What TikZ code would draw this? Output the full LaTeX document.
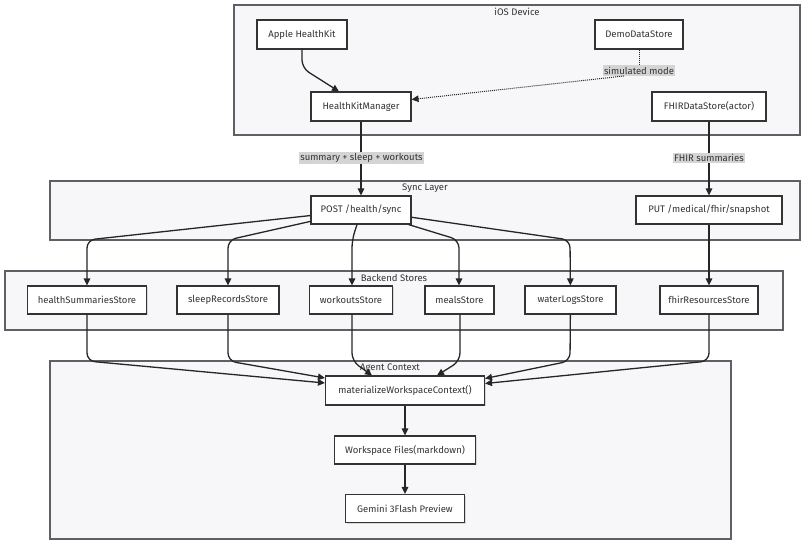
\documentclass[tikz,border=0pt]{standalone}
\usepackage{fontspec}
\setmainfont{Fira Sans}
\usetikzlibrary{arrows.meta,shadows}
\definecolor{txt}{HTML}{333333}
\definecolor{clfill}{HTML}{F7F7FA}
\definecolor{cldraw}{HTML}{5F5F66}
\definecolor{lblbg}{HTML}{D4D4D4}
\tikzset{
  cluster/.style={draw=cldraw, fill=clfill, line width=1.2pt},
  ctitle/.style={text=txt, inner sep=0pt, font=\fontsize{9.5}{11}\selectfont},
  box/.style={draw=txt, fill=white, line width=1.1pt, text=txt, minimum height=29pt, inner sep=2pt,
    drop shadow={shadow xshift=1.2pt, shadow yshift=-1.2pt, fill=black, opacity=0.12}},
  lbl/.style={fill=lblbg, text=txt, inner xsep=1pt, inner ysep=1.5pt},
  arr/.style={draw=black!85, line width=1.3pt, -{Triangle[length=7pt,width=6.5pt]}, rounded corners=8pt},
  dotarr/.style={draw=black!85, line width=1pt, dash pattern=on 1pt off 1pt},
}
\begin{document}
\begin{tikzpicture}[x=1pt,y=-1pt, font=\fontsize{9.5}{11}\selectfont]
\useasboundingbox (0,0) rectangle (806,544);
\fill[white] (0,0) rectangle (806,544);

% clusters
\draw[cluster] (234,5) rectangle (800,135);
\node[ctitle] (tios) at (517,12) {iOS Device};
\draw[cluster] (50,181) rectangle (800,240);
\node[ctitle] (tsync) at (425,188) {Sync Layer};
\draw[cluster] (5,271) rectangle (783,330);
\node[ctitle] (tback) at (394,278) {Backend Stores};
\draw[cluster] (50,361) rectangle (731,539);
\node[ctitle] (tagent) at (390,368) {Agent Context};

% iOS nodes
\node[box, minimum width=90pt] (ahk) at (302,34.5) {Apple HealthKit};
\node[box, minimum width=88pt] (demo) at (639,34.5) {DemoDataStore};
\node[box, minimum width=100pt] (hkm) at (361,106.5) {HealthKitManager};
\node[box, minimum width=114pt] (fds) at (709,106.5) {FHIRDataStore(actor)};

% sync nodes
\node[box, minimum width=100pt, minimum height=28pt] (post) at (361,210) {POST /health/sync};
\node[box, minimum width=146pt, minimum height=28pt] (put) at (709,210) {PUT /medical/fhir/snapshot};

% backend nodes
\node[box, minimum width=119pt, minimum height=28pt] (hss) at (87,300) {healthSummariesStore};
\node[box, minimum width=102pt, minimum height=28pt] (srs) at (228,300) {sleepRecordsStore};
\node[box, minimum width=83pt, minimum height=28pt] (wos) at (351,300) {workoutsStore};
\node[box, minimum width=69pt, minimum height=28pt] (meals) at (459.5,300) {mealsStore};
\node[box, minimum width=91pt, minimum height=28pt] (water) at (570.5,300) {waterLogsStore};
\node[box, minimum width=98pt, minimum height=28pt] (fhirs) at (709,300) {fhirResourcesStore};

% agent nodes
\node[box, minimum width=159pt] (mat) at (405,390.5) {materializeWorkspaceContext()};
\node[box, minimum width=141pt, minimum height=28pt] (wsf) at (405,450) {Workspace Files(markdown)};
\node[box, minimum width=119pt, minimum height=28pt] (gem) at (405,508.5) {Gemini 3Flash Preview};

% bend coordinates
\coordinate (a1) at (302,68);
\coordinate (s1) at (87,240);
\coordinate (s2) at (228,240);
\coordinate (s3) at (352,240);
\coordinate (s4) at (459,240);
\coordinate (s5) at (570,240);
\coordinate (m1) at (87,361);
\coordinate (m2) at (228,361);
\coordinate (m3) at (352,361);
\coordinate (m4) at (460,361);
\coordinate (m5) at (570,361);
\coordinate (m6) at (709,361);

% iOS edges
\draw[arr] (ahk) -- (a1) -- ([xshift=-22pt]hkm.north);
\node[lbl] (sim) at (639,70.5) {simulated mode};
\draw[dotarr] (demo) -- (sim);
\draw[dotarr, -{Triangle[length=7pt,width=6.5pt]}] (sim.200) -- ([yshift=7pt]hkm.east);

% to sync layer
\draw[arr] (hkm) -- (post);
\node[lbl] (l1) at (361.5,158) {summary + sleep + workouts};
\draw[arr] (fds) -- (put);
\node[lbl] (l2) at (709,158) {FHIR summaries};

% sync to backend
\draw[arr] (post) -- (s1) -- (hss);
\draw[arr] (post) -- (s2) -- (srs);
\draw[arr] ([xshift=-4pt]post.south) -- (s3) -- (wos.north -| s3);
\draw[arr] (post) -- (s4) -- (meals.north -| s4);
\draw[arr] (post) -- (s5) -- (water);
\draw[arr] (put) -- (fhirs);

% backend to agent
\draw[arr] (hss) -- (m1) -- ([yshift=7.5pt]mat.west);
\draw[arr] (srs) -- (m2) -- ([yshift=12.5pt]mat.west);
\draw[arr] (wos.south -| m3) -- (m3) -- ([xshift=-33pt]mat.north);
\draw[arr] (meals.south -| m4) -- (m4) -- ([xshift=32pt]mat.north);
\draw[arr] (water) -- (m5) -- ([yshift=12pt]mat.east);
\draw[arr] (fhirs) -- (m6) -- ([yshift=7pt]mat.east);

\draw[arr] (mat) -- (wsf);
\draw[arr] (wsf) -- (gem);
\end{tikzpicture}
\end{document}
